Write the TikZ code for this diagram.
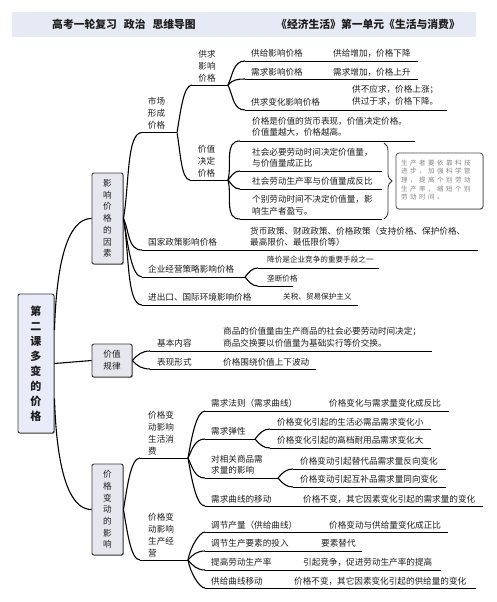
\documentclass[tikz,border=0pt]{standalone}
\usepackage{fontspec}
\setmainfont{Noto Sans CJK SC}
\usetikzlibrary{decorations.pathreplacing,shadows}
\definecolor{barfill}{HTML}{E6EAF5}
\definecolor{rootfill}{HTML}{E9ECF8}
\definecolor{boxfill}{HTML}{E6E6EE}
\definecolor{boxline}{HTML}{3A3A3A}
\definecolor{txt}{HTML}{1E1E1E}
\definecolor{notetxt}{HTML}{858585}
\newcommand{\fsz}[2]{\fontsize{#1}{#2}\selectfont}
\def\spacedtxt#1{\spacedstep#1\relax}
\def\spacedstep#1{\ifx#1\relax\else\makebox[9pt][l]{#1}\expandafter\spacedstep\fi}
\begin{document}
\begin{tikzpicture}[x=1pt,y=1pt,
  lbl/.style={anchor=west,inner sep=0pt,text=txt,align=left,font=\fsz{8.6}{11.5}},
  sml/.style={lbl,font=\fsz{7.6}{10}},
  vlbl/.style={inner sep=0pt,text=txt,align=center,font=\fsz{8.6}{11.8}},
  vlblL/.style={anchor=west,inner sep=0pt,text=txt,align=left,font=\fsz{8.6}{12}},
  ttl/.style={inner sep=0pt,text=txt,font=\bfseries\fsz{10.8}{13}},
  conn/.style={line width=1.1pt,black},
  uline/.style={line width=0.9pt,black},
  mainbox/.style={draw=boxline,line width=0.9pt,rounded corners=2pt,fill=boxfill,inner sep=0pt,text=txt,align=center,
    drop shadow={shadow xshift=0.8pt,shadow yshift=-0.8pt,fill=black!45,opacity=1}},
  bu/.style={out=80,in=180,out looseness=1,in looseness=0.45},
  bd/.style={out=-80,in=180,out looseness=1,in looseness=0.45},
  fu/.style={out=65,in=180},
  fd/.style={out=-65,in=180},
  su/.style={out=50,in=180},
  sd/.style={out=-50,in=180},
]
\fill[white] (0,0) rectangle (496,-602);
\useasboundingbox (0,0) rectangle (496,-602);

% title bar
\fill[barfill] (12,-12) rectangle (476,-37);
\node[ttl] (ttlL) at (124,-24.5) {高考一轮复习\hspace{7pt}政治\hspace{7pt}思维导图};
\node[ttl] (ttlR) at (368,-24.5) {《经济生活》第一单元《生活与消费》};

% main boxes
\node[mainbox,fill=rootfill,minimum width=36pt,minimum height=139pt,font=\bfseries\fsz{11}{15}] (root) at (36,-363.5) {第\\二\\课\\多\\变\\的\\价\\格};
\node[mainbox,minimum width=31pt,minimum height=91pt,font=\fsz{8.6}{11.7}] (b1) at (107.5,-218.5) {影\\响\\价\\格\\的\\因\\素};
\node[mainbox,minimum width=40pt,minimum height=33pt,font=\fsz{8.6}{12}] (b2) at (112,-360.5) {价值\\规律};
\node[mainbox,minimum width=31pt,minimum height=91pt,font=\fsz{8.6}{11.7}] (b3) at (107.5,-509.5) {价\\格\\变\\动\\的\\影\\响};

% root connectors
\coordinate (rt1) at ([yshift=33.5pt]root.east);
\coordinate (rt3) at ([yshift=-35pt]root.east);
\draw[conn] (rt1) to[out=88,in=180,looseness=0.7] (b1.west);
\draw[conn] (root.east) -- (b2.west);
\draw[conn] (rt3) to[out=-88,in=180,looseness=0.7] (b3.west);

% ---------- b1 ----------
\coordinate (scS) at (142,-132.5); \coordinate (scE) at (177,-132.5);
\coordinate (gqS) at (192,-85);    \coordinate (gqE) at (228,-85);
\coordinate (g1S) at (245,-61);    \coordinate (g1E) at (418,-61);
\coordinate (g2S) at (245,-79);    \coordinate (g2E) at (418,-79);
\coordinate (g3S) at (245,-110);   \coordinate (g3E) at (447,-110);
\coordinate (jzS) at (190,-180);   \coordinate (jzE) at (228,-180);
\coordinate (v1S) at (240,-141);   \coordinate (v1E) at (415,-141);
\coordinate (v2S) at (240,-171);   \coordinate (v2E) at (382,-171);
\coordinate (v3S) at (240,-189);   \coordinate (v3E) at (382,-189);
\coordinate (v4S) at (240,-219);   \coordinate (v4E) at (382,-219);
\coordinate (gjS) at (142,-250);   \coordinate (gjE) at (478,-250);
\coordinate (qyS) at (142,-277);   \coordinate (qyE) at (245,-277);
\coordinate (e1S) at (258,-268);   \coordinate (e1E) at (379,-268);
\coordinate (e2S) at (258,-286);   \coordinate (e2E) at (293,-286);
\coordinate (jcS) at (142,-305);   \coordinate (jcE) at (358,-305);

\draw[conn] (b1.east) to[bu] (scS); \draw[uline] (scS) -- (scE);
\draw[conn] (scE) to[bu] (gqS); \draw[uline] (gqS) -- (gqE);
\draw[conn] (gqE) to[fu] (g1S); \draw[uline] (g1S) -- (g1E);
\draw[conn] (gqE) to[su] (g2S); \draw[uline] (g2S) -- (g2E);
\draw[conn] (gqE) to[fd] (g3S); \draw[uline] (g3S) -- (g3E);
\draw[conn] (scE) to[bd] (jzS); \draw[uline] (jzS) -- (jzE);
\draw[conn] (jzE) to[out=75,in=180] (v1S); \draw[uline] (v1S) -- (v1E);
\draw[conn] (jzE) to[su] (v2S); \draw[uline] (v2S) -- (v2E);
\draw[conn] (jzE) to[sd] (v3S); \draw[uline] (v3S) -- (v3E);
\draw[conn] (jzE) to[out=-75,in=180] (v4S); \draw[uline] (v4S) -- (v4E);
\draw[conn] (b1.east) to[fd] (gjS); \draw[uline] (gjS) -- (gjE);
\draw[conn] (b1.east) to[bd] (qyS); \draw[uline] (qyS) -- (qyE);
\draw[conn] (qyE) to[su] (e1S); \draw[uline] (e1S) -- (e1E);
\draw[conn] (qyE) to[sd] (e2S); \draw[uline] (e2S) -- (e2E);
\draw[conn] (b1.east) to[bd] (jcS); \draw[uline] (jcS) -- (jcE);

\node[vlbl] (nsc) at (156.5,-113.5) {市场\\形成\\价格};
\node[vlbl] (ngq) at (207,-66) {供求\\影响\\价格};
\node[vlbl] (njz) at (206.5,-161) {价值\\决定\\价格};
\node[lbl] (ng1) at (251,-53) {供给影响价格};
\node[lbl] (ng1b) at (333,-53) {供给增加，价格下降};
\node[lbl] (ng2) at (251,-72) {需求影响价格};
\node[lbl] (ng2b) at (333,-72) {需求增加，价格上升};
\node[lbl] (ng3) at (251,-102) {供求变化影响价格};
\node[lbl] (ng3b) at (352,-95.5) {供不应求，价格上涨；\\供过于求，价格下降。};
\node[lbl] (nv1) at (252,-127) {价格是价值的货币表现，价值决定价格。\\价值量越大，价格越高。};
\node[lbl] (nv2) at (252,-157.5) {社会必要劳动时间决定价值量，\\与价值量成正比};
\node[lbl] (nv3) at (252,-181) {社会劳动生产率与价值量成反比};
\node[lbl] (nv4) at (252,-205) {个别劳动时间不决定价值量，影\\响生产者盈亏。};
\draw[line width=0.8pt,black!80,decorate,decoration={brace,amplitude=8pt}] (384,-143) -- (384,-219);
\node[draw=black!70,line width=0.8pt,rounded corners=3pt,fill=white,minimum width=87pt,minimum height=56pt,inner sep=0pt,
  drop shadow={shadow xshift=0.6pt,shadow yshift=-0.6pt,fill=black!40,opacity=1}] (note) at (439.5,-181) {};
\node[anchor=west,inner sep=0pt,align=left,text=notetxt,font=\fsz{6.5}{8.6}] (notet) at (401,-180)
  {\spacedtxt{生产者要依靠科技}\\\spacedtxt{进步，加强科学管}\\\spacedtxt{理，提高个别劳动}\\\spacedtxt{生产率，缩短个别}\\\spacedtxt{劳动时间。}};
\node[lbl] (ngj) at (148,-242) {国家政策影响价格};
\node[lbl] (ngjb) at (250,-236.5) {货币政策、财政政策、价格政策（支持价格、保护价格、\\最高限价、最低限价等）};
\node[lbl] (nqy) at (148,-269) {企业经营策略影响价格};
\node[sml] (ne1) at (267,-260) {降价是企业竞争的重要手段之一};
\node[sml] (ne2) at (267,-279) {垄断价格};
\node[lbl] (njc) at (148,-297) {进出口、国际环境影响价格};
\node[sml] (njcb) at (283,-297) {关税、贸易保护主义};

% ---------- b2 ----------
\coordinate (jbS) at (150,-351); \coordinate (jbE) at (432,-351);
\coordinate (bxS) at (150,-369); \coordinate (bxE) at (316,-369);
\draw[conn] (b2.east) to[su] (jbS); \draw[uline] (jbS) -- (jbE);
\draw[conn] (b2.east) to[sd] (bxS); \draw[uline] (bxS) -- (bxE);
\node[lbl] (njb) at (157,-343) {基本内容};
\node[lbl] (njbb) at (223,-337) {商品的价值量由生产商品的社会必要劳动时间决定；\\商品交换要以价值量为基础实行等价交换。};
\node[lbl] (nbx) at (157,-362) {表现形式};
\node[lbl] (nbxb) at (223,-362) {价格围绕价值上下波动};

% ---------- b3 ----------
\coordinate (shS) at (140,-458); \coordinate (shE) at (188,-458);
\coordinate (d1S) at (205,-411); \coordinate (d1E) at (449,-411);
\coordinate (d2S) at (205,-439); \coordinate (d2E) at (255,-439);
\coordinate (d21S) at (270,-429); \coordinate (d21E) at (431,-429);
\coordinate (d22S) at (270,-448); \coordinate (d22E) at (431,-448);
\coordinate (d3S) at (205,-478); \coordinate (d3E) at (278,-478);
\coordinate (d31S) at (293,-469); \coordinate (d31E) at (446,-469);
\coordinate (d32S) at (293,-487); \coordinate (d32E) at (446,-487);
\coordinate (d4S) at (205,-506); \coordinate (d4E) at (483,-506);
\coordinate (scjS) at (140,-560); \coordinate (scjE) at (188,-560);
\coordinate (p1S) at (205,-532); \coordinate (p1E) at (448,-532);
\coordinate (p2S) at (205,-551); \coordinate (p2E) at (362,-551);
\coordinate (p3S) at (205,-570); \coordinate (p3E) at (441,-570);
\coordinate (p4S) at (205,-588); \coordinate (p4E) at (476,-588);

\draw[conn] (b3.east) to[bu] (shS); \draw[uline] (shS) -- (shE);
\draw[conn] (shE) to[bu] (d1S); \draw[uline] (d1S) -- (d1E);
\draw[conn] (shE) to[fu] (d2S); \draw[uline] (d2S) -- (d2E);
\draw[conn] (d2E) to[su] (d21S); \draw[uline] (d21S) -- (d21E);
\draw[conn] (d2E) to[sd] (d22S); \draw[uline] (d22S) -- (d22E);
\draw[conn] (shE) to[fd] (d3S); \draw[uline] (d3S) -- (d3E);
\draw[conn] (d3E) to[su] (d31S); \draw[uline] (d31S) -- (d31E);
\draw[conn] (d3E) to[sd] (d32S); \draw[uline] (d32S) -- (d32E);
\draw[conn] (shE) to[bd] (d4S); \draw[uline] (d4S) -- (d4E);
\draw[conn] (b3.east) to[bd] (scjS); \draw[uline] (scjS) -- (scjE);
\draw[conn] (scjE) to[bu] (p1S); \draw[uline] (p1S) -- (p1E);
\draw[conn] (scjE) to[su] (p2S); \draw[uline] (p2S) -- (p2E);
\draw[conn] (scjE) to[sd] (p3S); \draw[uline] (p3S) -- (p3E);
\draw[conn] (scjE) to[bd] (p4S); \draw[uline] (p4S) -- (p4E);

\node[vlblL] (nsh) at (148,-433) {价格变\\动影响\\生活消\\费};
\node[lbl] (nd1) at (211,-403) {需求法则（需求曲线）};
\node[lbl] (nd1b) at (329,-403) {价格变化与需求量变化成反比};
\node[lbl] (nd2) at (211,-431) {需求弹性};
\node[lbl] (nd21) at (277,-422) {价格变化引起的生活必需品需求变化小};
\node[lbl] (nd22) at (277,-440) {价格变化引起的高档耐用品需求变化大};
\node[lbl] (nd3) at (211,-464.5) {对相关商品需\\求量的影响};
\node[lbl] (nd31) at (300,-461) {价格变动引起替代品需求量反向变化};
\node[lbl] (nd32) at (300,-479) {价格变动引起互补品需求量同向变化};
\node[lbl] (nd4) at (211,-499) {需求曲线的移动};
\node[lbl] (nd4b) at (303,-499) {价格不变，其它因素变化引起的需求量的变化};
\node[vlblL] (nscj) at (148,-535) {价格变\\动影响\\生产经\\营};
\node[lbl] (np1) at (211,-525) {调节产量（供给曲线）};
\node[lbl] (np1b) at (329,-525) {价格变动与供给量变化成正比};
\node[lbl] (np2) at (211,-543) {调节生产要素的投入};
\node[lbl] (np2b) at (321,-543) {要素替代};
\node[lbl] (np3) at (211,-562) {提高劳动生产率};
\node[lbl] (np3b) at (303,-562) {引起竞争，促进劳动生产率的提高};
\node[lbl] (np4) at (211,-581) {供给曲线移动};
\node[lbl] (np4b) at (294,-581) {价格不变，其它因素变化引起的供给量的变化};
\end{tikzpicture}
\end{document}
